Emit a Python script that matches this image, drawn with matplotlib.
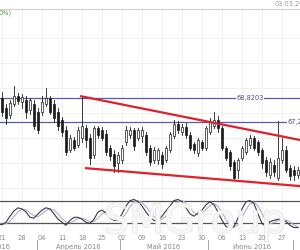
import matplotlib
matplotlib.use("Agg")
import matplotlib.pyplot as plt
import matplotlib.transforms as mtransforms
import matplotlib.patheffects as pe
from matplotlib.patches import Rectangle

# ---------------- data ----------------
idx = list(range(-1, 75))  # trading-day index, 0 = 21 Mar 2016

opens = [69.02, 68.82, 68.15, 67.69, 68.42, 68.95, 68.55, 68.69, 68.02, 68.42,
         67.89, 67.89, 68.42, 68.82, 68.42, 67.89, 67.35, 66.69, 65.35, 66.02,
         65.69, 66.15, 66.82, 66.15, 65.02, 66.82, 66.69, 66.42, 65.49, 65.09,
         64.49, 64.69, 65.89, 66.35, 66.69, 66.15, 66.29, 66.35, 65.49, 64.69,
         64.69, 65.02, 64.69, 65.35, 66.29, 67.09, 66.55, 66.89, 66.35, 65.75,
         65.15, 65.89, 65.49, 66.55, 66.95, 67.35, 66.82, 65.49, 65.22, 64.55,
         64.02, 64.82, 65.22, 65.69, 66.15, 65.89, 65.35, 64.69, 63.69, 64.35,
         63.49, 64.69, 65.35, 64.15, 64.02, 63.69]
closes = [68.02, 67.89, 67.49, 68.49, 68.95, 68.62, 68.89, 67.89, 68.69, 66.95,
          66.69, 68.55, 68.82, 67.89, 67.49, 66.95, 66.55, 65.22, 66.15, 65.49,
          66.69, 66.95, 66.02, 64.82, 66.82, 66.35, 66.15, 65.22, 64.95, 64.29,
          65.02, 65.49, 66.69, 66.69, 65.62, 66.69, 66.69, 65.22, 64.55, 65.35,
          65.35, 64.42, 65.49, 66.42, 67.09, 66.69, 66.89, 66.35, 65.49, 65.35,
          66.02, 65.49, 66.82, 67.22, 67.35, 66.82, 65.49, 64.82, 64.29, 63.49,
          64.69, 65.49, 66.02, 66.15, 65.49, 65.22, 64.49, 63.89, 64.55, 63.89,
          64.82, 65.35, 64.02, 63.62, 63.69, 64.02]
highs = [69.35, 69.22, 68.42, 68.69, 69.62, 69.15, 69.09, 68.95, 68.82, 68.69,
         68.15, 68.95, 69.49, 68.95, 68.69, 68.15, 67.55, 66.95, 66.35, 66.22,
         66.89, 68.95, 67.02, 66.42, 66.95, 66.95, 66.89, 66.69, 65.69, 65.35,
         65.22, 65.69, 66.95, 66.89, 66.82, 66.82, 66.89, 66.55, 65.69, 65.55,
         65.49, 65.22, 65.62, 66.55, 67.35, 67.29, 67.09, 67.15, 66.55, 65.89,
         66.15, 66.02, 66.95, 67.49, 67.89, 67.62, 66.95, 65.62, 65.35, 64.69,
         64.82, 65.62, 66.15, 66.35, 66.29, 66.02, 65.49, 64.89, 64.82, 64.69,
         67.29, 66.15, 65.62, 64.35, 64.29, 64.22]
lows = [67.69, 67.62, 67.09, 67.49, 68.29, 68.42, 68.15, 67.49, 67.75, 66.75,
        66.49, 67.69, 68.29, 67.75, 67.22, 66.69, 66.29, 65.02, 65.22, 65.35,
        65.55, 65.89, 65.55, 64.42, 64.82, 66.15, 66.02, 65.02, 64.69, 63.89,
        63.89, 64.49, 65.69, 66.15, 65.35, 66.02, 65.89, 65.02, 64.35, 64.49,
        64.42, 64.15, 64.55, 65.22, 66.15, 66.49, 66.35, 66.15, 65.35, 65.15,
        64.95, 65.35, 65.35, 66.42, 66.82, 66.55, 65.35, 64.69, 64.02, 63.35,
        63.49, 64.69, 65.09, 65.49, 65.35, 65.02, 64.15, 63.62, 63.49, 63.62,
        63.35, 64.49, 63.89, 63.35, 63.35, 63.49]

stoch_k = [17, 17, 23, 39, 53, 61, 58, 50, 36, 34, 45, 55, 61, 58, 45, 31, 23, 15,
           28, 36, 36, 31, 23, 20, 31, 50, 55, 47, 34, 28, 28, 45, 66, 80, 83, 77,
           66, 50, 36, 28, 26, 39, 53, 66, 80, 83, 77, 61, 45, 39, 47, 55, 69, 77,
           69, 50, 28, 12, 6, 12, 34, 58, 77, 80, 72, 45, 20, 12, 25, 28, 31, 31,
           25, 15, 9, 9]
stoch_d = [20, 18, 19, 26, 38, 51, 57, 56, 48, 40, 38, 45, 54, 58, 55, 45, 33, 23,
           22, 26, 33, 34, 30, 25, 25, 34, 45, 51, 45, 36, 30, 34, 46, 64, 76, 80,
           75, 64, 51, 38, 30, 31, 39, 53, 66, 76, 80, 74, 61, 48, 44, 47, 57, 67,
           72, 65, 49, 30, 15, 10, 17, 35, 56, 72, 76, 66, 46, 26, 19, 22, 28, 30,
           29, 24, 16, 11]

day_ticks = [0, 5, 10, 15, 20, 25, 30, 35, 40, 45, 50, 55, 60, 65, 70]
day_labels = ["21", "28", "04", "11", "18", "25", "02", "09", "16", "23", "30",
              "06", "13", "20", "27"]
month_labels = ["Март 2016", "Апрель 2016", "Май 2016", "Июнь 2016"]
month_centers = [-2.0, 19.0, 40.5, 62.5]
month_bounds = [8.75, 29.5, 51.5, 72.75]

level_hi = 68.8203
level_lo = 67.2219
upper_trend = ([19.5, 74.5], [68.95, 66.02])
lower_trend = ([20.75, 74.5], [64.15, 62.95])

# ---------------- figure ----------------
fig = plt.figure(figsize=(3.0, 2.5), dpi=100)
fig.patch.set_facecolor("white")
ax = fig.add_axes([0, 0.228, 1, 0.736])
axo = fig.add_axes([0, 0.076, 1, 0.152])
for a in (ax, axo):
    a.set_xlim(-0.5, 74.5)
    for s in a.spines.values():
        s.set_visible(False)
    a.set_xticks([])
    a.set_yticks([])
    a.set_facecolor("none")
ax.set_ylim(62.49, 74.75)
axo.set_ylim(0, 100)

# grid
for t in day_ticks:
    ax.axvline(t, color="#ececec", lw=0.6, zorder=0)
    axo.axvline(t, color="#f2f2f2", lw=0.6, zorder=0)
for g in [62.82, 64.49, 66.15, 67.82, 69.49, 71.15, 72.82]:
    ax.axhline(g, color="#eeeeee", lw=0.6, zorder=0)
ax.axhline(74.75, color="#d0d0d0", lw=0.8, zorder=1, clip_on=False)

# watermark
fig.text(0.65, 1 - 233 / 250, "SMGroup", fontsize=29, color="#f7f7f7",
         ha="center", va="baseline", zorder=0,
         path_effects=[pe.withStroke(linewidth=0.9, foreground="#e2e2e2")])

# horizontal levels
ax.axhline(level_hi, color="#5a5aaa", lw=0.9, zorder=2)
ax.axhline(level_lo, color="#5a5aaa", lw=0.9, zorder=2)
ax.text(62, level_hi, "68,8203", fontsize=4.8, color="#4a4aa0", ha="center",
        va="center", zorder=3,
        bbox=dict(facecolor="white", edgecolor="none", pad=0.6))
ax.text(71.5, level_lo, "67,2219", fontsize=4.8, color="#4a4aa0", ha="left",
        va="center", zorder=3, clip_on=False,
        bbox=dict(facecolor="white", edgecolor="none", pad=0.6))

# candles
w = 0.62
for i, o, c, h, l in zip(idx, opens, closes, highs, lows):
    ax.plot([i, i], [l, h], color="#1a1a1a", lw=0.6, zorder=4)
    bottom = min(o, c)
    height = max(abs(c - o), 0.04)
    face = "white" if c > o else "#1a1a1a"
    ax.add_patch(Rectangle((i - w / 2, bottom), w, height, facecolor=face,
                           edgecolor="#1a1a1a", lw=0.5, zorder=5))

# trend lines
ax.plot(*upper_trend, color="#e0202a", lw=1.6, zorder=6, solid_capstyle="butt")
ax.plot(*lower_trend, color="#e0202a", lw=1.6, zorder=6, solid_capstyle="butt")

# oscillator
axo.axhline(80, color="#555555", lw=0.9, zorder=2)
axo.axhline(20, color="#555555", lw=0.9, zorder=2)
axo.plot(idx, stoch_d, color="#b9a8d8", lw=0.8, zorder=3)
axo.plot(idx, stoch_k, color="#3a3a3a", lw=0.8, zorder=4)

# axis labels
tr = mtransforms.blended_transform_factory(ax.transData, fig.transFigure)
for t, lab in zip(day_ticks, day_labels):
    fig.text(t, 1 - 238 / 250, lab, transform=tr, fontsize=4.8, color="#8a8a8a",
             ha="center", va="center")
for cx, lab in zip(month_centers, month_labels):
    if cx < 0:
        fig.text(2.0, 1 - 247 / 250, lab, transform=tr, fontsize=4.8,
                 color="#8a8a8a", ha="right", va="center")
    else:
        fig.text(cx, 1 - 247 / 250, lab, transform=tr, fontsize=4.8,
                 color="#8a8a8a", ha="center", va="center")
for b in month_bounds:
    fig.add_artist(plt.Line2D([b, b], [1 - 250 / 250, 1 - 240 / 250],
                              transform=tr, color="#9a9a9a", lw=0.6))

# top texts
fig.text(-0.003, 1 - 13 / 250, "0%)", fontsize=4.8, color="#4c9a4c",
         ha="left", va="center")
fig.text(275 / 300, 1 - 4 / 250, "03.03.2016", fontsize=4.8, color="#9a9a9a",
         ha="left", va="center")

fig.savefig("out.png", dpi=100, facecolor="white")
